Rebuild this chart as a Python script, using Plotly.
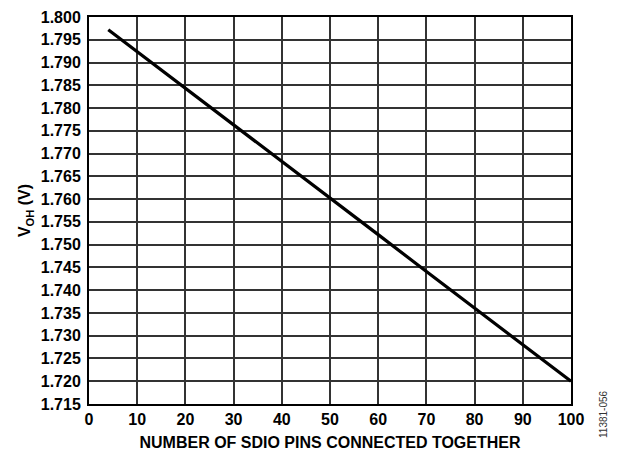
import plotly.graph_objects as go

pins = [4, 10, 20, 30, 40, 50, 60, 70, 80, 90, 100]
voh = [1.7972, 1.7924, 1.7844, 1.7763, 1.7683, 1.7602, 1.7522, 1.7441, 1.7361, 1.7281, 1.7200]

x_ticks = list(range(0, 101, 10))
y_ticks = [round(1.715 + 0.005 * i, 3) for i in range(18)]
y_labels = [f"<b>{v:.3f}</b>" for v in y_ticks]

font = "Liberation Sans, Arial, sans-serif"

fig = go.Figure()
fig.add_trace(go.Scatter(x=pins, y=voh, mode="lines",
                         line=dict(color="black", width=3.2), showlegend=False))

fig.update_layout(
    width=618, height=455,
    margin=dict(l=89, r=47, t=17, b=51, autoexpand=False),
    paper_bgcolor="white", plot_bgcolor="white",
    font=dict(family=font, size=16, color="black"),
)
fig.update_xaxes(
    range=[0, 100], tickvals=x_ticks, ticktext=[f"<b>{v}</b>" for v in x_ticks],
    showgrid=True, gridcolor="#333", gridwidth=1.8,
    showline=True, linecolor="black", linewidth=2, mirror=True,
    ticks="", zeroline=False, automargin=False,
    tickfont=dict(family=font, size=16, color="black"),
    title=dict(text="<b>NUMBER OF SDIO PINS CONNECTED TOGETHER</b>",
               font=dict(family=font, size=16, color="black"), standoff=10),
)
fig.update_yaxes(
    range=[1.715, 1.800], tickvals=y_ticks, ticktext=y_labels,
    showgrid=True, gridcolor="#333", gridwidth=1.8,
    showline=True, linecolor="black", linewidth=2, mirror=True,
    ticks="", zeroline=False, automargin=False, ticklabelstandoff=3,
    tickfont=dict(family=font, size=16, color="black"),
    title=dict(text="<b>V<sub>OH</sub> (V)</b>",
               font=dict(family=font, size=16, color="black"), standoff=6),
)
fig.add_annotation(text="11381-056", xref="paper", yref="paper",
                   x=1.0, y=0.0, xshift=32, yshift=-10, textangle=-90,
                   showarrow=False, xanchor="center", yanchor="middle",
                   font=dict(family=font, size=10, color="#333"))

fig.write_html("out.html", config={"displayModeBar": False},
               post_script="document.body.style.margin='0';document.body.style.overflow='hidden';")
